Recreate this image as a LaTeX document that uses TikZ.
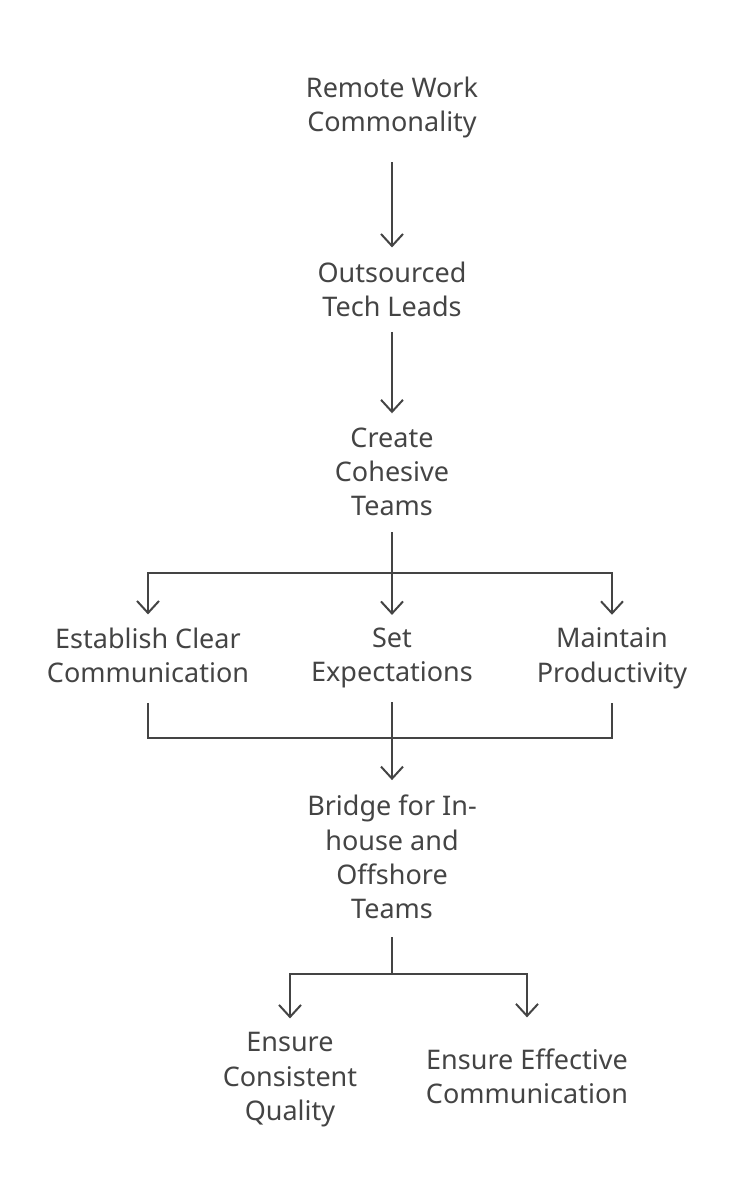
\documentclass[tikz,border=0pt]{standalone}
\usepackage{fontspec}
\setmainfont{Noto Sans}
\usepackage{xcolor}
\usepackage{tikz}
\usetikzlibrary{arrows.meta,calc}
\definecolor{fcink}{HTML}{444444}
\tikzset{
  fc label/.style={
    align=center,
    inner sep=0pt,
    text=fcink,
    font=\fontsize{27}{34.3}\selectfont,
    execute at begin node=\strut,
    execute at end node=\strut,
  },
  fc arrow/.style={-{Straight Barb[length=12pt,width=22pt]}, line width=2pt, draw=fcink, shorten >=14pt},
  fc line/.style={line width=2pt, draw=fcink},
}

\begin{document}
\begin{tikzpicture}[x=1pt,y=-1pt]
  \useasboundingbox (0,0) rectangle (734,1200);
  \node[fc label] (remote) at (392,109.6) {Remote Work\\Commonality};
  \node[fc label] (leads) at (392,294.2) {Outsourced\\Tech Leads};
  \node[fc label] (teams) at (392,476.7) {Create\\Cohesive\\Teams};
  \node[fc label] (clear) at (148,660.2) {Establish Clear\\Communication};
  \node[fc label] (expect) at (392,660.2) {Set\\Expectations};
  \node[fc label] (product) at (612,660.2) {Maintain\\Productivity};
  \node[fc label] (bridge) at (392,862.2) {Bridge for In-\\house and\\Offshore\\Teams};
  \node[fc label] (quality) at (290,1081.7) {Ensure\\Consistent\\Quality};
  \node[fc label] (effect) at (527,1081.2) {Ensure Effective\\Communication};

  \draw[fc arrow, shorten <=20pt] (remote) -- (leads);
  \draw[fc arrow, shorten <=5pt] (leads) -- (teams);

  % fan out to the three tasks
  \path (teams.south) ++(0,46.7) coordinate (split);
  \draw[fc line, shorten <=6pt] (teams.south) -- (split);
  \draw[fc arrow, shorten >=13pt] (split) -| (clear.north);
  \draw[fc arrow, shorten >=13pt] (split) -- (expect.north);
  \draw[fc arrow, shorten >=13pt] (split) -| (product.north);

  % merge into the bridge
  \path (expect.south) ++(0,45.7) coordinate (merge);
  \draw[fc line, shorten <=10pt, shorten >=10pt] (clear.south) |- (merge) -| (product.south);
  \draw[fc arrow, shorten <=10pt, shorten >=15pt] (expect) -- (bridge);

  % fan out to the two outcomes
  \path (bridge.south) ++(0,44.7) coordinate (fork);
  \draw[fc line, shorten <=8pt] (bridge.south) -- (fork);
  \draw[fc arrow] (fork) -| (quality.north);
  \draw[fc arrow, shorten >=31pt] (fork) -| (effect.north);
\end{tikzpicture}
\end{document}
